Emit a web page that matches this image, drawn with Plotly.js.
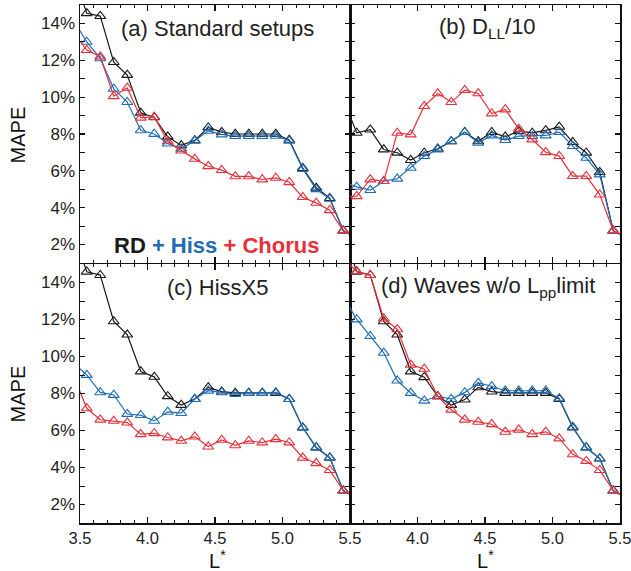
<!DOCTYPE html>
<html>
<head>
<meta charset="utf-8">
<script src="https://cdn.plot.ly/plotly-3.0.1.min.js"></script>
<style>html,body{margin:0;padding:0;background:#fff;}#chart{width:631px;height:571px;}</style>
</head>
<body>
<div id="chart"></div>
<script>
// L* bin centres (first and last are just outside the plotted range; their lines run to the frame edge)
const Lstar = [3.45,3.55,3.65,3.75,3.85,3.95,4.05,4.15,4.25,4.35,4.45,4.55,4.65,4.75,4.85,4.95,5.05,5.15,5.25,5.35,5.45,5.55];

// (a) Standard setups
const aRD     = [16.7,14.55,14.4,11.9,11.2,9.15,8.9,7.85,7.38,7.65,8.35,8.1,8.0,8.0,8.0,8.0,7.68,6.15,5.08,4.52,2.75,2.35];
const aHiss   = [14.2,13.0,12.1,10.45,9.73,8.2,8.0,7.48,7.2,7.63,8.17,7.97,7.88,7.88,7.88,7.9,7.63,6.1,5.0,4.48,2.75,2.35];
const aChorus = [13.5,12.55,12.2,10.05,10.5,8.88,8.93,7.6,7.1,6.65,6.25,6.04,5.7,5.7,5.53,5.62,5.38,4.57,4.26,3.86,2.75,2.35];

// (b) D_LL/10
const bRD     = [9.9,8.06,8.24,7.16,6.98,6.58,6.98,7.2,7.6,8.1,7.6,8.1,7.85,8.15,8.06,8.2,8.39,7.56,6.98,5.93,2.75,2.35];
const bHiss   = [5.4,5.13,4.95,5.44,5.57,6.16,6.8,7.16,7.6,8.1,7.52,7.92,7.67,7.88,7.88,7.92,8.1,7.34,6.7,5.8,2.75,2.35];
const bChorus = [4.6,4.62,5.53,5.44,8.06,7.97,9.51,10.2,9.73,10.38,10.2,9.11,9.33,8.28,7.7,7.01,6.8,5.71,5.71,4.71,2.75,2.35];

// (c) HissX5
const cRD     = [16.7,14.58,14.4,11.9,11.18,9.19,8.9,7.85,7.38,7.7,8.33,8.1,8.03,8.03,8.03,8.03,7.7,6.16,5.08,4.53,2.75,2.35];
const cHiss   = [9.66,9.0,8.06,7.92,6.89,6.83,6.52,7.01,6.94,7.7,8.15,8.06,7.97,8.03,8.03,8.06,7.7,6.16,5.08,4.53,2.75,2.35];
const cChorus = [9.0,7.2,6.58,6.52,6.43,5.8,5.85,5.62,5.44,5.67,5.13,5.49,5.2,5.44,5.35,5.53,5.35,4.53,4.23,3.86,2.75,2.35];

// (d) Waves w/o Lpp limit
const dRD     = [16.7,14.58,14.4,11.9,11.18,9.19,8.88,7.85,7.38,7.67,8.33,8.1,8.03,8.03,8.03,8.03,7.7,6.16,5.08,4.48,2.75,2.35];
const dHiss   = [13.24,12.0,11.1,10.2,8.7,8.03,7.61,7.85,7.7,8.06,8.57,8.39,8.15,8.15,8.15,8.15,7.74,6.2,5.08,4.48,2.75,2.35];
const dChorus = [15.3,14.6,14.4,12.05,11.47,9.55,9.33,7.85,7.12,6.58,6.47,6.34,5.93,6.04,5.8,5.93,5.57,4.71,4.35,3.86,2.75,2.35];

const panelTitles = ['(a) Standard setups','(b) D<sub>LL</sub>/10','(c) HissX5','(d) Waves w/o L<sub>pp</sub>limit'];
const yTickVals = [2,4,6,8,10,12,14];
const yTickText = ['2%','4%','6%','8%','10%','12%','14%'];
const xTickValsC = [3.5,4.0,4.5,5.0,5.5];
const xTickValsD = [4.0,4.5,5.0,5.5];

const colRD = '#1a1a1a', colHiss = '#1f6db5', colChorus = '#e8303a';
const FONT = '"Liberation Sans", Arial, Helvetica, sans-serif';

const panels = [[aRD,aHiss,aChorus],[bRD,bHiss,bChorus],[cRD,cHiss,cChorus],[dRD,dHiss,dChorus]];
const traces = [];
panels.forEach((p, i) => {
  const xa = i === 0 ? 'x' : 'x' + (i + 1);
  const ya = i === 0 ? 'y' : 'y' + (i + 1);
  [[p[0], colRD], [p[1], colHiss], [p[2], colChorus]].forEach(([vals, col]) => {
    traces.push({
      x: Lstar, y: vals, xaxis: xa, yaxis: ya, type: 'scatter', mode: 'lines+markers',
      line: {color: col, width: 1.2},
      marker: {symbol: 'triangle-up-open', size: 9.5, color: col, line: {width: 1.1, color: col}},
      showlegend: false, hoverinfo: 'skip'
    });
  });
});

function xax(domain, showLabels, tickvals) {
  return {
    domain: domain, range: [3.5, 5.5], showgrid: false, zeroline: false,
    showline: true, linecolor: '#111', linewidth: 1.5, mirror: 'allticks',
    ticks: 'inside', ticklen: 6, tickwidth: 1.2, tickcolor: '#111',
    tickvals: tickvals || [3.5,4.0,4.5,5.0,5.5], tickformat: '.1f',
    showticklabels: showLabels, ticklabeloverflow: 'allow',
    tickfont: {family: FONT, size: 16.5, color: '#222'},
    minor: {dtick: 0.1, tick0: 3.5, ticks: 'inside', ticklen: 3, tickwidth: 1, tickcolor: '#111', showgrid: false}
  };
}
function yax(domain, showLabels) {
  return {
    domain: domain, range: [1, 15], showgrid: false, zeroline: false,
    showline: true, linecolor: '#111', linewidth: 1.5, mirror: 'allticks',
    ticks: 'inside', ticklen: 5, tickwidth: 1.2, tickcolor: '#111',
    tickvals: yTickVals, ticktext: yTickText, showticklabels: showLabels,
    tickfont: {family: FONT, size: 17, color: '#222'},
    minor: {dtick: 1, tick0: 1, ticks: 'inside', ticklen: 5, tickwidth: 1, tickcolor: '#111', showgrid: false}
  };
}

const annotations = [];
const refs = [['x','y'],['x2','y2'],['x3','y3'],['x4','y4']];
panelTitles.forEach((t, i) => {
  annotations.push({
    text: t, xref: refs[i][0] + ' domain', yref: refs[i][1] + ' domain',
    x: 0.51, y: 0.91, xanchor: 'center', yanchor: 'middle', showarrow: false,
    font: {family: FONT, size: 22, color: '#222'}
  });
});
annotations.push({
  text: '<b><span style="color:' + colRD + '">RD</span> <span style="color:' + colHiss + '">+ Hiss</span> <span style="color:' + colChorus + '">+ Chorus</span></b>',
  xref: 'x domain', yref: 'y domain', x: 0.505, y: 0.066, xanchor: 'center', yanchor: 'middle',
  showarrow: false, font: {family: FONT, size: 22, color: '#222'}
});
// y-axis titles
[0.75, 0.25].forEach(yc => {
  annotations.push({text: 'MAPE', xref: 'paper', yref: 'paper', x: -0.115, y: yc, xanchor: 'center', yanchor: 'middle',
    textangle: -90, showarrow: false, font: {family: FONT, size: 20, color: '#111'}});
});
// x-axis titles
[0.254, 0.75].forEach(xc => {
  annotations.push({text: 'L<sup>*</sup>', xref: 'paper', yref: 'paper', x: xc, y: -0.07, xanchor: 'center', yanchor: 'middle',
    showarrow: false, font: {family: FONT, size: 20, color: '#111'}});
});

const layout = {
  width: 631, height: 571,
  margin: {l: 80, r: 11, t: 5, b: 48},
  paper_bgcolor: '#fff', plot_bgcolor: '#fff',
  font: {family: FONT, color: '#222'},
  showlegend: false,
  xaxis:  xax([0, 0.5], false),
  xaxis2: xax([0.5, 1], false),
  xaxis3: xax([0, 0.5], true, xTickValsC),
  xaxis4: xax([0.5, 1], true, xTickValsD),
  yaxis:  yax([0.502, 1], true),
  yaxis2: yax([0.502, 1], false),
  yaxis3: yax([0, 0.5], true),
  yaxis4: yax([0, 0.5], false),
  annotations: annotations
};
layout.xaxis2.anchor = 'y2'; layout.yaxis2.anchor = 'x2';
layout.xaxis3.anchor = 'y3'; layout.yaxis3.anchor = 'x3';
layout.xaxis4.anchor = 'y4'; layout.yaxis4.anchor = 'x4';
layout.xaxis.anchor = 'y'; layout.yaxis.anchor = 'x';

Plotly.newPlot('chart', traces, layout, {staticPlot: true, displayModeBar: false});
</script>
</body>
</html>
